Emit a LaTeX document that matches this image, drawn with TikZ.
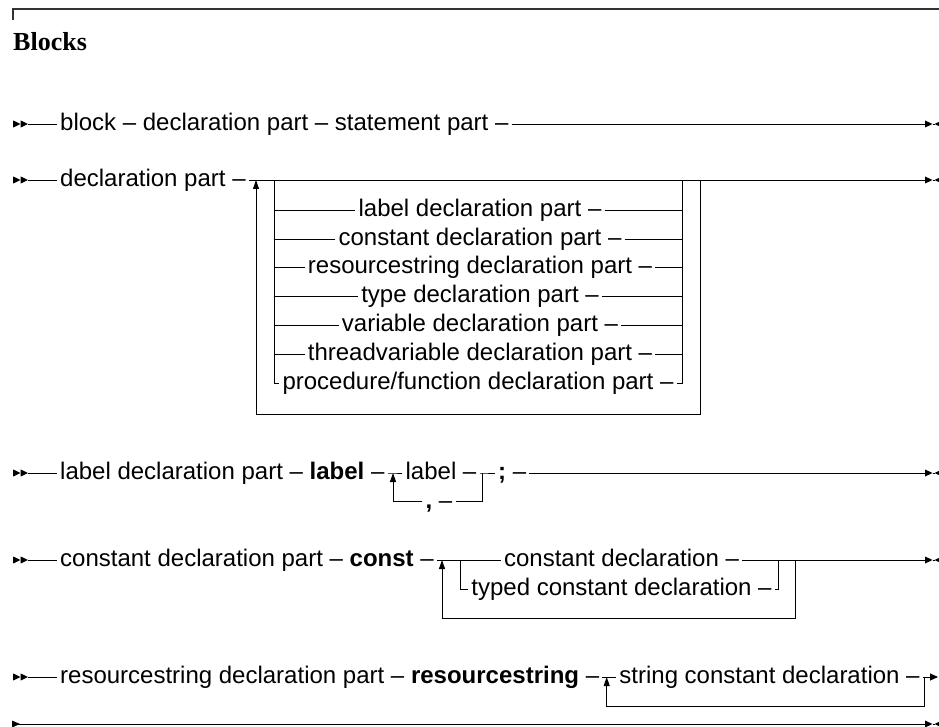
\documentclass[tikz,border=0pt]{standalone}
\usepackage{fontspec}
\setmainfont{Liberation Sans}
\newfontfamily\titlefont{Liberation Serif}
\usetikzlibrary{arrows.meta}
\begin{document}
\fontsize{24}{28}\selectfont
\begin{tikzpicture}[x=1pt,y=-1pt,
  every node/.style={font=\fontsize{24}{28}\selectfont, inner xsep=3pt, inner ysep=2pt},
  lbl/.style={anchor=mid west},
  ctr/.style={anchor=mid},
  ln/.style={line width=0.9pt, black},
  uparr/.style={ln, -{Triangle[length=9pt,width=6pt]}},
  endarr/.style={ln, -{Triangle[length=8pt,width=7pt]}},
  startmk/.pic={\fill (0,-3.6) -- (7.5,0) -- (0,3.6) -- cycle;
                \fill (7.5,-3.6) -- (15,0) -- (7.5,3.6) -- cycle;},
  endmk/.pic={\fill (0,-3.5) -- (7.5,0) -- (0,3.5) -- cycle;
              \draw[line width=0.9pt] (7.5,0) -- (10,0);
              \fill (9.5,0) -- (17,-3.5) -- (17,3.5) -- cycle;},
]
\useasboundingbox (0,0) rectangle (939,727);

% frame and title
\coordinate (fr0) at (13,20);
\coordinate (fr1) at (13,9);
\coordinate (fr2) at (941,9);
\draw[line width=1.3pt, black!80] (fr0) -- (fr1) -- (fr2);
\node[anchor=base west, inner sep=0pt,
      font=\titlefont\bfseries\fontsize{26}{30}\selectfont] (title) at (13,51) {Blocks};

% ---------- row 1 ----------
\pic at (13,124) {startmk};
\coordinate (s1) at (28,124);
\node[lbl] (b1) at (57,124) {block – declaration part – statement part –};
\coordinate (e1) at (925,124);
\draw[ln] (s1) -- (b1.mid west);
\draw[ln] (b1.mid east) -- (e1);
\pic at (e1) {endmk};

% ---------- row 2 ----------
\pic at (13,180) {startmk};
\coordinate (s2) at (28,180);
\node[lbl] (d2) at (57,180) {declaration part –};
\coordinate (j2a) at (256,180);
\coordinate (j2b) at (274,180);
\coordinate (j2c) at (682,180);
\coordinate (j2d) at (700,180);
\coordinate (l2bl) at (256,414);
\coordinate (l2br) at (700,414);
\coordinate (e2) at (925,180);
\draw[ln] (s2) -- (d2.mid west);
\draw[ln] (d2.mid east) -- (e2);
\pic at (e2) {endmk};
\draw[ln] (j2d) -- (l2br) -- (l2bl);
\draw[uparr] (l2bl) -- (j2a);

\node[ctr] (o1) at (480,210) {label declaration part –};
\node[ctr] (o2) at (480,239) {constant declaration part –};
\node[ctr] (o3) at (480,267.5) {resourcestring declaration part –};
\node[ctr] (o4) at (480,296.5) {type declaration part –};
\node[ctr] (o5) at (480,325) {variable declaration part –};
\node[ctr] (o6) at (480,354) {threadvariable declaration part –};
\node[ctr] (o7) at (478,383) {procedure/function declaration part –};
\foreach \n in {o1,o2,o3,o4,o5,o6}{
  \draw[ln] (j2b |- \n.mid) -- (\n.mid west);
  \draw[ln] (\n.mid east) -- (j2c |- \n.mid);
}
\draw[ln] (j2b) -- (j2b |- o7.mid) -- (o7.mid west);
\draw[ln] (o7.mid east) -- (j2c |- o7.mid) -- (j2c);

% ---------- row 3 ----------
\pic at (13,473) {startmk};
\coordinate (s3) at (28,473);
\node[lbl] (l3) at (57,473) {label declaration part – \textbf{label} –};
\coordinate (j3a) at (393,473);
\coordinate (j3b) at (482,473);
\coordinate (j3c) at (393,501.7);
\coordinate (j3d) at (482,501.7);
\node[ctr] (lab) at (441,473) {label –};
\node[ctr] (com) at (439,501.7) {\textbf{,} –};
\node[lbl] (semi) at (495,473) {\textbf{;} –};
\coordinate (e3) at (925,473);
\draw[ln] (s3) -- (l3.mid west);
\draw[ln] (l3.mid east) -- (j3a) -- (lab.mid west);
\draw[ln] (lab.mid east) -- (j3b) -- (semi.mid west);
\draw[ln] (semi.mid east) -- (e3);
\pic at (e3) {endmk};
\draw[uparr] (com.mid west) -- (j3c) -- (j3a);
\draw[ln] (com.mid east) -- (j3d) -- (j3b);

% ---------- row 4 ----------
\pic at (13,560) {startmk};
\coordinate (s4) at (28,560);
\node[lbl] (c4) at (57,560) {constant declaration part – \textbf{const} –};
\coordinate (j4a) at (442,560);
\coordinate (j4b) at (460,560);
\coordinate (j4c) at (778,560);
\coordinate (j4d) at (795,560);
\coordinate (j4e) at (442,618.3);
\coordinate (j4f) at (795,618.3);
\coordinate (e4) at (925,560);
\node[ctr] (cd) at (621.5,560) {constant declaration –};
\node[ctr] (tcd) at (621.5,589.3) {typed constant declaration –};
\draw[ln] (s4) -- (c4.mid west);
\draw[ln] (c4.mid east) -- (cd.mid west);
\draw[ln] (cd.mid east) -- (e4);
\pic at (e4) {endmk};
\draw[ln] (j4b) -- (j4b |- tcd.mid) -- (tcd.mid west);
\draw[ln] (tcd.mid east) -- (j4c |- tcd.mid) -- (j4c);
\draw[ln] (j4d) -- (j4f) -- (j4e);
\draw[uparr] (j4e) -- (j4a);

% ---------- row 5 ----------
\pic at (13,677) {startmk};
\coordinate (s5) at (28,677);
\node[lbl] (r5) at (57,677) {resourcestring declaration part – \textbf{resourcestring} –};
\coordinate (j5a) at (606.7,677);
\coordinate (j5b) at (924.3,677);
\coordinate (j5c) at (606.7,706.5);
\coordinate (j5d) at (924.3,706.5);
\coordinate (e5) at (938,677);
\node[ctr] (scd) at (769.5,677) {string constant declaration –};
\draw[ln] (s5) -- (r5.mid west);
\draw[ln] (r5.mid east) -- (scd.mid west);
\draw[endarr] (scd.mid east) -- (e5);
\draw[ln] (j5b) -- (j5d) -- (j5c);
\draw[uparr] (j5c) -- (j5a);

% ---------- row 6 (continuation) ----------
\coordinate (s6) at (13,724);
\coordinate (e6) at (925,724);
\fill (12,720.5) -- (20,724) -- (12,727.5) -- cycle;
\draw[ln] (s6) -- (e6);
\pic at (e6) {endmk};
\end{tikzpicture}
\end{document}
